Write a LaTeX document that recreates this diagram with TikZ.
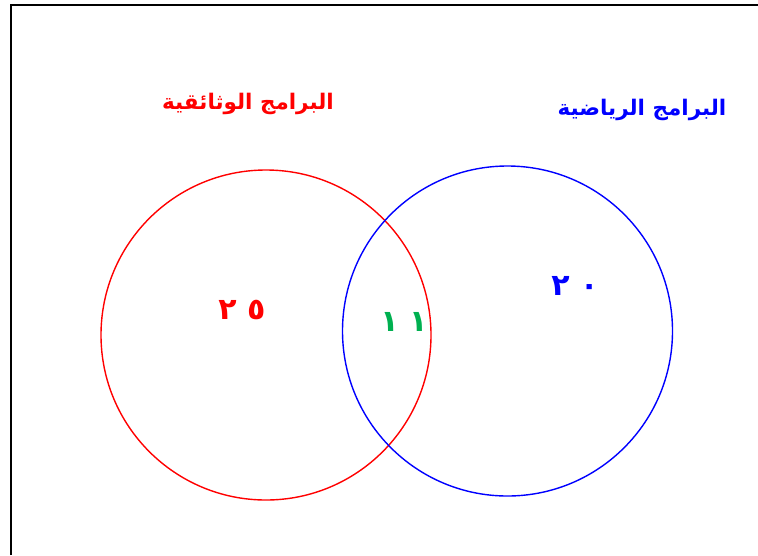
\documentclass[tikz,border=0pt]{standalone}
\usepackage{fontspec}
\TeXXeTstate=1
\newfontfamily\arabicfont[Script=Arabic]{DejaVu Sans}
\definecolor{setred}{RGB}{255,0,0}
\definecolor{setblue}{RGB}{0,0,255}
\definecolor{setgreen}{RGB}{0,176,80}
\tikzset{
  settitle/.style={font=\arabicfont\bfseries\fontsize{21.5}{25}\selectfont, inner sep=0pt},
  setcount/.style={font=\arabicfont\bfseries\fontsize{30}{34}\selectfont, inner sep=0pt}
}

\begin{document}
\begin{tikzpicture}[x=1pt,y=-1pt]
		\useasboundingbox (0,0) rectangle (758,555);
		\draw[line width=2pt] (11,555) -- (11,5) -- (758,5);
		% the two sets
		\coordinate (docs) at (266,335);
		\coordinate (math) at (507.5,331);
		\draw[setred, line width=1.4pt] (docs) circle (165);
		\draw[setblue, line width=1.4pt] (math) circle (165);
		% titles
		\node[settitle, text=setred] (docstitle) at (248,104) {\beginR البرامج الوثائقية\endR};
		\node[settitle, text=setblue] (mathtitle) at (642,110) {\beginR البرامج الرياضية\endR};
		% counts
		\node[setcount, text=setred] (docsonly) at (242,310) {\beginR\beginL ٢ ٥\endL\endR};
		\node[setcount, text=setgreen] (both) at (404,322) {\beginR\beginL ١ ١\endL\endR};
		\node[setcount, text=setblue] (mathonly) at (575,286) {\beginR\beginL ٢ ٠\endL\endR};
	\end{tikzpicture}
\end{document}
